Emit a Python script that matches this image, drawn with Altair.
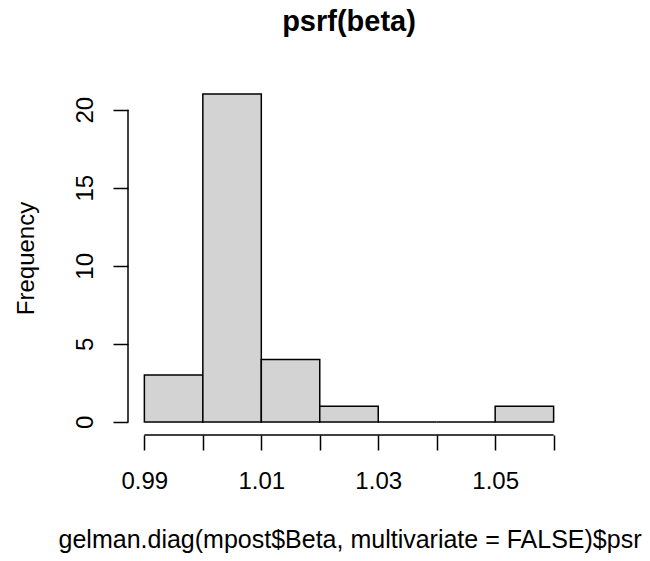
import altair as alt
import pandas as pd

# Histogram data
bin_starts = [0.99, 1.00, 1.01, 1.02, 1.03, 1.04, 1.05]
bin_ends = [1.00, 1.01, 1.02, 1.03, 1.04, 1.05, 1.06]
counts = [3, 21, 4, 1, 0, 0, 1]

x_ticks = [0.99, 1.00, 1.01, 1.02, 1.03, 1.04, 1.05, 1.06]
x_labels_shown = ["0.99", "1.01", "1.03", "1.05"]
y_ticks = [0, 5, 10, 15, 20]

main_title = "psrf(beta)"
x_title = "gelman.diag(mpost$Beta, multivariate = FALSE)$psrf"
y_title = "Frequency"

FONT = "Liberation Sans"
FS = 24
LW = 1.5
W, H = 442, 354

# R-style 4% range extension
xr = (min(bin_starts), max(bin_ends))
xpad = (xr[1] - xr[0]) * 0.04
yr = (0, max(counts))
ypad = (yr[1] - yr[0]) * 0.04
xscale = alt.Scale(domain=[xr[0] - xpad, xr[1] + xpad], nice=False, zero=False)
yscale = alt.Scale(domain=[yr[0] - ypad, yr[1] + ypad], nice=False, zero=False)

shown = ",".join("'%s'" % s for s in x_labels_shown)
xaxis = alt.Axis(
    values=x_ticks, title=x_title, domain=False, grid=False,
    tickSize=15, tickWidth=LW, tickColor="black",
    labelExpr="indexof([%s], format(datum.value, '.2f')) >= 0 ? format(datum.value, '.2f') : ''" % shown,
    labelFont=FONT, labelFontSize=FS, labelColor="black",
    labelBaseline="alphabetic", labelAlign="center", labelPadding=38,
    labelFlush=False, labelOverlap=False, labelBound=False,
    titleFont=FONT, titleFontSize=25, titleFontWeight="normal", titleColor="black",
    titleBaseline="alphabetic", titleAlign="center", titleX=225, titleY=112,
)
yaxis = alt.Axis(
    values=y_ticks, title=y_title, domain=False, grid=False, format="d",
    tickSize=15, tickWidth=LW, tickColor="black",
    labelFont=FONT, labelFontSize=FS, labelColor="black",
    labelAngle=270, labelAlign="center", labelBaseline="alphabetic", labelPadding=21,
    labelFlush=False, labelOverlap=False, labelBound=False,
    titleFont=FONT, titleFontSize=FS, titleFontWeight="normal", titleColor="black",
    titleAngle=270, titleBaseline="alphabetic", titleAlign="center",
    titleX=-95, titleY=H / 2,
)

df = pd.DataFrame({"start": bin_starts, "end": bin_ends, "count": counts})

bars = alt.Chart(df).mark_rect(fill="#d3d3d3", stroke="black", strokeWidth=LW).encode(
    x=alt.X("start:Q", scale=xscale, axis=xaxis),
    x2="end:Q",
    y=alt.Y("count:Q", scale=yscale, axis=yaxis),
    y2=alt.datum(0),
)

yline_df = pd.DataFrame({"count": [min(y_ticks)], "hi": [max(y_ticks)]})
yline = alt.Chart(yline_df).mark_rule(color="black", strokeWidth=LW).encode(
    x=alt.value(0),
    y=alt.Y("count:Q", scale=yscale, axis=yaxis),
    y2="hi:Q",
)

xline_df = pd.DataFrame({"start": [min(x_ticks)], "end": [max(x_ticks)], "count": [yr[0] - ypad]})
xline = alt.Chart(xline_df).mark_rule(color="black", strokeWidth=LW).encode(
    x=alt.X("start:Q", scale=xscale, axis=xaxis),
    x2="end:Q",
    y=alt.Y("count:Q", scale=yscale, axis=yaxis),
)

chart = alt.layer(bars, yline, xline).properties(
    width=W, height=H,
    title=alt.TitleParams(main_title, font=FONT, fontSize=29, fontWeight="bold",
                          color="black", anchor="middle", baseline="alphabetic", offset=21),
    autosize=alt.AutoSizeParams(type="none"),
    padding={"left": 120, "top": 73, "right": 72, "bottom": 118},
).configure(background="white").configure_view(strokeWidth=0, stroke="transparent")

chart.save("out.html", embed_options={"renderer": "svg", "actions": False})
